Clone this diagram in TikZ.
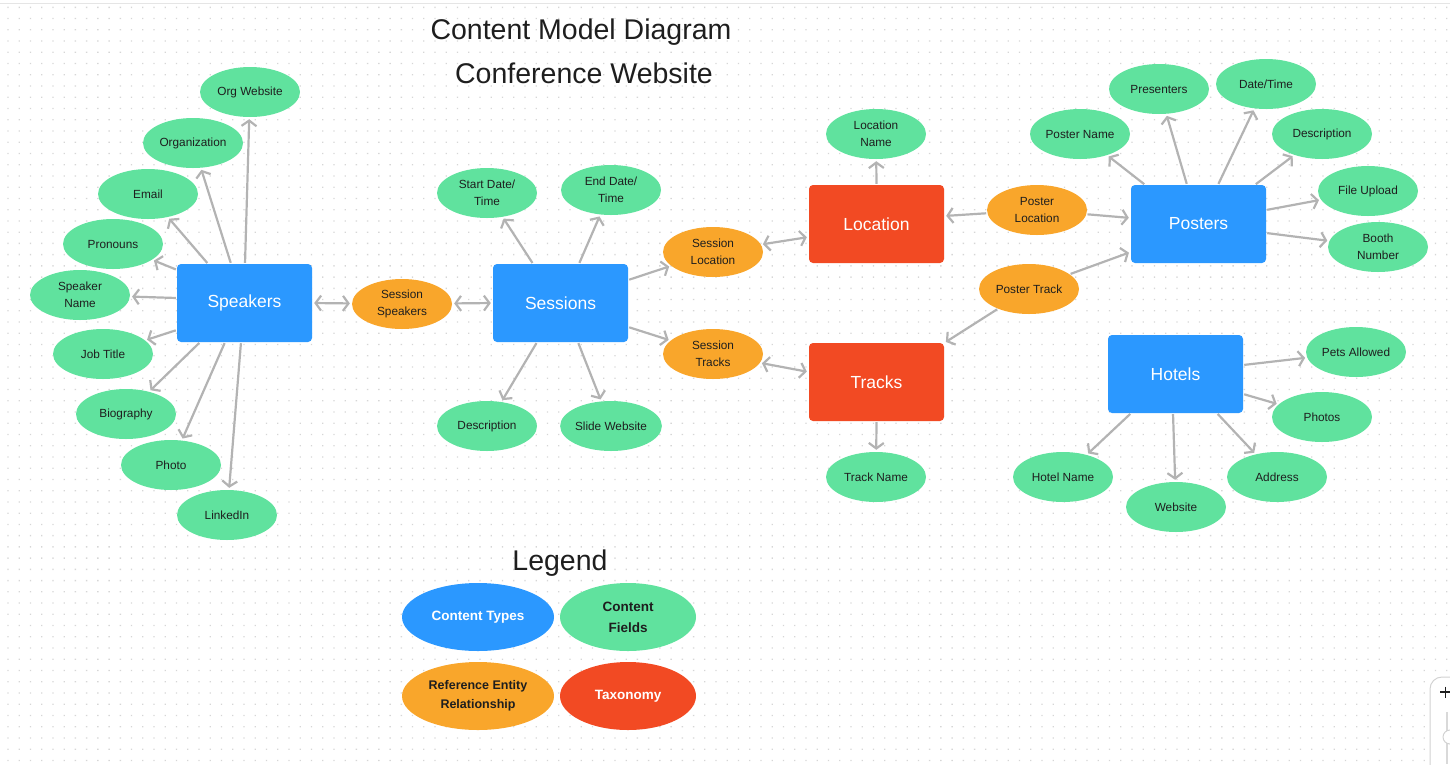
\documentclass[tikz,border=0pt]{standalone}
\usepackage{fontspec}
\setmainfont{Liberation Sans}
\usetikzlibrary{shapes.geometric,arrows.meta}
\definecolor{cblue}{HTML}{2B98FF}
\definecolor{cgreen}{HTML}{60E29E}
\definecolor{corange}{HTML}{F9A62B}
\definecolor{cred}{HTML}{F24A23}
\definecolor{cgrey}{HTML}{B3B3B3}
\definecolor{ctext}{HTML}{1E1E1E}
\definecolor{cdot}{HTML}{D6D6D6}
\begin{document}
\begin{tikzpicture}[x=1pt,y=-1pt,
  ctype/.style={rectangle, rounded corners=4pt, fill=cblue, minimum width=135pt, minimum height=78pt, inner sep=0pt, text=white, font=\fontsize{17.5}{20}\selectfont},
  taxo/.style={ctype, fill=cred},
  field/.style={ellipse, fill=cgreen, minimum width=100pt, minimum height=50pt, inner sep=0pt, align=center, text=ctext, font=\fontsize{11.8}{17}\selectfont},
  refer/.style={field, fill=corange},
  legend/.style={ellipse, minimum height=68pt, inner sep=0pt, align=center, font=\bfseries\fontsize{13.5}{21}\selectfont},
  conn/.style={draw=cgrey, line width=2.2pt, -{Straight Barb[length=5.5pt,width=15pt]}, shorten >=2pt, shorten <=1pt},
  dconn/.style={draw=cgrey, line width=2.2pt, {Straight Barb[length=5.5pt,width=15pt]}-{Straight Barb[length=5.5pt,width=15pt]}, shorten >=2pt, shorten <=2pt},
  title/.style={font=\fontsize{28.5}{34}\selectfont, text=ctext}
]
\useasboundingbox (0,0) rectangle (1450,764);
% background dot grid
\foreach \j in {0,...,67} {
  \fill[cdot] \foreach \i in {0,...,128} {(7.3+\i*11.24,6.7+\j*11.24) rectangle ++(1.3,1.3)};
}
\draw[gray!20, line width=1pt] (0,3) -- (1450,3);

% titles
\node[title] (t1) at (581,32) {Content Model Diagram};
\node[title] (t2) at (584,73) {Conference Website};

% content types and taxonomies
\node[ctype] (speakers) at (244.5,303) {Speakers};
\node[ctype] (sessions) at (560.5,303) {Sessions};
\node[taxo] (location) at (876.5,224) {Location};
\node[taxo] (tracks) at (876.5,382) {Tracks};
\node[ctype] (posters) at (1198.5,224) {Posters};
\node[ctype] (hotels) at (1175.5,374) {Hotels};

% speaker fields
\node[field] (orgweb) at (250,92) {Org Website};
\node[field] (organization) at (193,143) {Organization};
\node[field] (email) at (148,194) {Email};
\node[field] (pronouns) at (113,244) {Pronouns};
\node[field] (spkname) at (80,295) {Speaker\\Name};
\node[field] (jobtitle) at (103,354) {Job Title};
\node[field] (biography) at (126,414) {Biography};
\node[field] (photo) at (171,465) {Photo};
\node[field] (linkedin) at (227,515) {LinkedIn};

% session fields
\node[field] (startdt) at (487,193) {Start Date/\\Time};
\node[field] (enddt) at (611,190) {End Date/\\Time};
\node[field] (sessdesc) at (487,426) {Description};
\node[field] (slideweb) at (611,426) {Slide Website};

% references
\node[refer] (sessspk) at (402,304) {Session\\Speakers};
\node[refer] (sessloc) at (713,252) {Session\\Location};
\node[refer] (sesstrk) at (713,354) {Session\\Tracks};
\node[refer] (posterloc) at (1037,210) {Poster\\Location};
\node[refer] (postertrk) at (1029,289) {Poster Track};

% taxonomy fields
\node[field] (locname) at (876,134) {Location\\Name};
\node[field] (trkname) at (876,477) {Track Name};

% poster fields
\node[field] (postername) at (1080,134) {Poster Name};
\node[field] (presenters) at (1159,89) {Presenters};
\node[field] (datetime) at (1266,84) {Date/Time};
\node[field] (postdesc) at (1322,134) {Description};
\node[field] (fileup) at (1368,191) {File Upload};
\node[field] (booth) at (1378,247) {Booth\\Number};

% hotel fields
\node[field] (pets) at (1356,352) {Pets Allowed};
\node[field] (photos) at (1322,417) {Photos};
\node[field] (address) at (1277,477) {Address};
\node[field] (hotweb) at (1176,507) {Website};
\node[field] (hotname) at (1063,477) {Hotel Name};

% speaker connectors
\draw[conn] ([shift={(0.5,0)}]speakers.north) -- (orgweb);
\draw[conn] ([shift={(-13.5,0)}]speakers.north) -- (organization);
\draw[conn] ([shift={(-36.5,0)}]speakers.north) -- (email);
\draw[conn] ([shift={(0,6)}]speakers.north west) -- (pronouns);
\draw[conn] ([shift={(0,-5)}]speakers.west) -- (spkname);
\draw[conn] ([shift={(0,27)}]speakers.west) -- (jobtitle);
\draw[conn] ([shift={(-44.5,0)}]speakers.south) -- (biography);
\draw[conn] ([shift={(-19.5,0)}]speakers.south) -- (photo);
\draw[conn] ([shift={(-3.5,0)}]speakers.south) -- (linkedin);
\draw[dconn] (speakers.east) -- (sessspk);
\draw[dconn] (sessspk) -- (sessions.west);

% session connectors
\draw[conn] ([shift={(-27.5,0)}]sessions.north) -- (startdt);
\draw[conn] ([shift={(18.5,0)}]sessions.north) -- (enddt);
\draw[conn] ([shift={(-23.5,0)}]sessions.south) -- (sessdesc);
\draw[conn] ([shift={(17.5,0)}]sessions.south) -- (slideweb);
\draw[conn] ([shift={(0,-23)}]sessions.east) -- (sessloc);
\draw[conn] ([shift={(0,24)}]sessions.east) -- (sesstrk);
\draw[dconn] (sessloc) -- ([shift={(0,13)}]location.west);
\draw[dconn] (sesstrk) -- ([shift={(0,-10)}]tracks.west);

% taxonomy connectors
\draw[conn] (location.north) -- (locname);
\draw[conn] (tracks.south) -- (trkname);
\draw[conn] (posterloc) -- ([shift={(0,-8)}]location.east);
\draw[conn] (posterloc) -- ([shift={(0,-6)}]posters.west);
\draw[conn] (postertrk) -- ([shift={(0,28)}]posters.west);
\draw[conn] (postertrk) -- ([shift={(0,-39)}]tracks.east);

% poster connectors
\draw[conn] ([shift={(-53.5,0)}]posters.north) -- (postername);
\draw[conn] ([shift={(-11.5,0)}]posters.north) -- (presenters);
\draw[conn] ([shift={(19.5,0)}]posters.north) -- (datetime);
\draw[conn] ([shift={(56.5,0)}]posters.north) -- (postdesc);
\draw[conn] ([shift={(0,-14)}]posters.east) -- (fileup);
\draw[conn] ([shift={(0,9)}]posters.east) -- (booth);

% hotel connectors
\draw[conn] ([shift={(0,-9)}]hotels.east) -- (pets);
\draw[conn] ([shift={(0,20)}]hotels.east) -- (photos);
\draw[conn] ([shift={(-44.5,0)}]hotels.south) -- (hotname);
\draw[conn] ([shift={(-2.5,0)}]hotels.south) -- (hotweb);
\draw[conn] ([shift={(41.5,0)}]hotels.south) -- (address);

% legend
\node[title] (legtitle) at (560,563) {Legend};
\node[legend, fill=cblue, text=white, minimum width=152pt] (lgtype) at (478,617) {Content Types};
\node[legend, fill=cgreen, text=ctext, minimum width=136pt] (lgfield) at (628,617) {Content\\Fields};
\node[legend, fill=corange, text=ctext, minimum width=152pt, font=\bfseries\fontsize{12.5}{19}\selectfont] (lgref) at (478,696) {Reference Entity\\Relationship};
\node[legend, fill=cred, text=white, minimum width=136pt] (lgtaxo) at (628,696) {Taxonomy};

% zoom widget
\begin{scope}
\clip (0,0) rectangle (1450,764);
\draw[fill=white, draw=gray!35, line width=1pt, rounded corners=12pt] (1430,677) rectangle (1480,800);
\draw[ctext, line width=1.2pt] (1440,692) -- (1451,692) (1445.5,686.5) -- (1445.5,697.5);
\draw[gray!30, line width=2.5pt] (1447,712) -- (1447,764);
\draw[fill=white, draw=gray!35, line width=1pt] (1450,737) circle (7);
\end{scope}
\end{tikzpicture}
\end{document}
